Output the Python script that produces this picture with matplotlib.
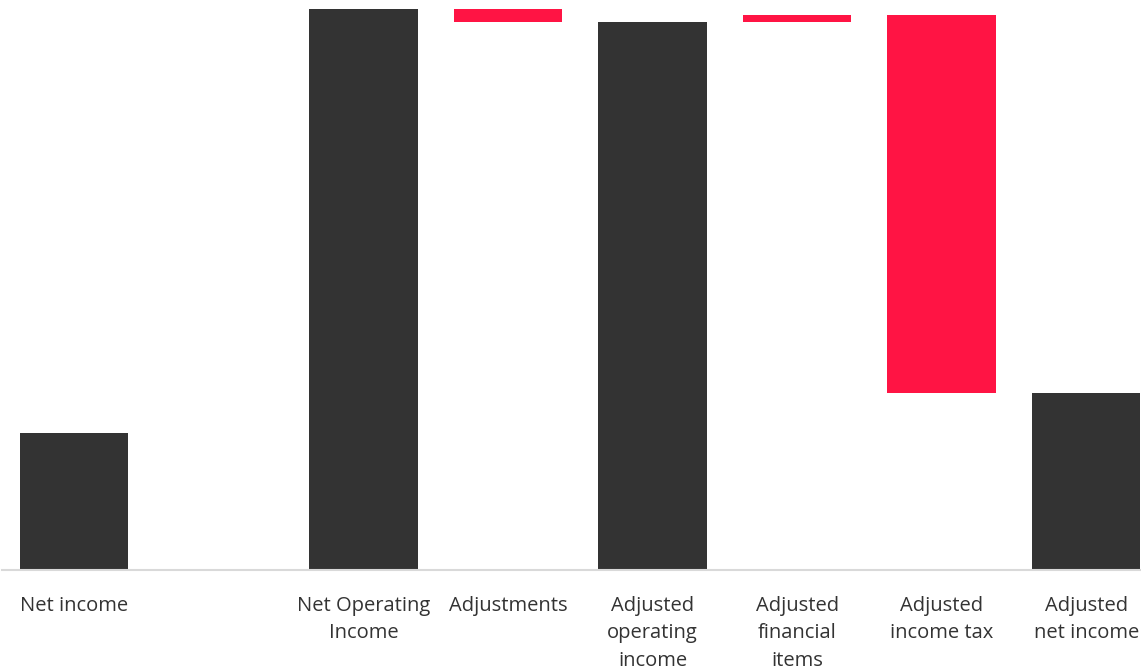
import matplotlib

matplotlib.use("Agg")
import matplotlib.pyplot as plt
import numpy as np

categories = [
    "Net income",
    "",
    "Net Operating\nIncome",
    "Adjustments",
    "Adjusted\noperating\nincome",
    "Adjusted\nfinancial\nitems",
    "Adjusted\nincome tax",
    "Adjusted\nnet income",
]
# bottom and top of each floating bar (None = empty slot)
bar_start = [0, None, 0, 560.5, 0, 548, 555, 0]
bar_end = [136.5, None, 560.5, 548, 548, 555, 177, 177]
kinds = ["total", None, "total", "change", "total", "change", "change", "total"]

colors = {"total": "#333333", "change": "#FF1444"}

fig = plt.figure(figsize=(11.41, 6.70), dpi=100)
ax = fig.add_axes([2 / 1141, 100.5 / 670, 1139 / 1141, 569.5 / 670])

x = np.arange(len(categories))
for xi, s, e, k in zip(x, bar_start, bar_end, kinds):
    if k is None:
        continue
    lo, hi = min(s, e), max(s, e)
    ax.bar(xi, hi - lo, bottom=lo, width=0.75, color=colors[k], linewidth=0)

ax.set_xlim(-0.5, (1141 - 74) / 144.6)
ax.set_ylim(0, 569.5)
for side in ["top", "right", "left"]:
    ax.spines[side].set_visible(False)
ax.spines["bottom"].set_color("#d9d9d9")
ax.spines["bottom"].set_linewidth(1.5)
ax.set_yticks([])
ax.set_xticks(x)
ax.set_xticklabels(categories, fontsize=14.5, color="#333333", family="Open Sans", linespacing=1.5)
ax.tick_params(axis="x", length=0, pad=19)

fig.savefig("out.png", facecolor="white")
plt.close(fig)
